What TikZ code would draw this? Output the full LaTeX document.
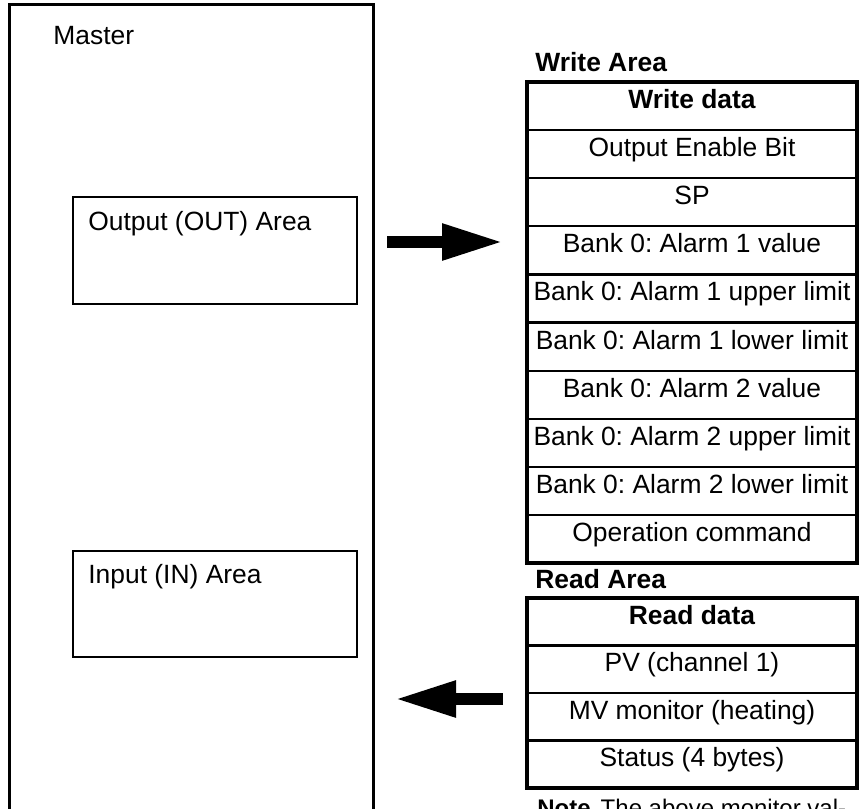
\documentclass[tikz,border=0pt]{standalone}
\usepackage{fontspec}
\setmainfont{Liberation Sans}
\usepackage{tikz}
\usetikzlibrary{positioning}
\usetikzlibrary{arrows.meta}
\frenchspacing
\newcommand{\labelsize}{\fontsize{13.2pt}{16pt}\selectfont}
\newcommand{\notesize}{\fontsize{12pt}{14.5pt}\selectfont}
\tikzset{
    areabox/.style={draw=black, line width=1.3pt, inner sep=0pt, outer sep=0pt},
    plaintext/.style={anchor=base west, inner sep=0pt},
    datarow/.style={draw=black, line width=1.1pt, minimum width=165pt, minimum height=24.05pt,
        inner sep=0pt, outer sep=0pt, text height=9.5pt, text depth=7pt},
    readrow/.style={datarow, minimum height=23.75pt},
    headrow/.style={datarow, font=\labelsize\bfseries},
    readhead/.style={readrow, font=\labelsize\bfseries},
    tableframe/.style={draw=black, line width=1.6pt},
    bigarrow/.style={draw=black, line width=5.75pt, -{Triangle[length=30.5pt,width=17pt]}},
}
\begin{document}
\begin{tikzpicture}[x=0.5pt, y=-0.5pt, font=\labelsize]
	\useasboundingbox (0,0) rectangle (860,808);
	\node[areabox, line width=1.5pt, anchor=north west, minimum width=182pt, minimum height=415pt] (master) at (9,5) {};
	\node[plaintext] (mastertxt) at (53,45) {Master};
	\node[areabox, anchor=north west, minimum width=142pt, minimum height=53.5pt] (outbox) at (73,197) {};
	\node[plaintext] (outtxt) at ([xshift=7.5pt,yshift=-16.5pt]outbox.north west) {Output (OUT) Area};
	\node[areabox, anchor=north west, minimum width=142pt, minimum height=53pt] (inbox) at (73,551) {};
	\node[plaintext] (intxt) at ([xshift=7.5pt,yshift=-16pt]inbox.north west) {Input (IN) Area};

	\node[headrow, anchor=north] (wh) at (692,82) {Write data};
	\node[datarow, below=0pt of wh] (w1) {Output Enable Bit};
	\node[datarow, below=0pt of w1] (w2) {SP};
	\node[datarow, below=0pt of w2] (w3) {Bank 0: Alarm 1 value};
	\node[datarow, below=0pt of w3] (w4) {Bank 0: Alarm 1 upper limit};
	\node[datarow, below=0pt of w4] (w5) {Bank 0: Alarm 1 lower limit};
	\node[datarow, below=0pt of w5] (w6) {Bank 0: Alarm 2 value};
	\node[datarow, below=0pt of w6] (w7) {Bank 0: Alarm 2 upper limit};
	\node[datarow, below=0pt of w7] (w8) {Bank 0: Alarm 2 lower limit};
	\node[datarow, below=0pt of w8] (w9) {Operation command};
	\draw[tableframe] (wh.north west) rectangle (w9.south east);
	\node[plaintext, font=\labelsize\bfseries] (wlabel) at ([xshift=4pt,yshift=5pt]wh.north west) {Write Area};

	\node[readhead, anchor=north] (rh) at (692,598) {Read data};
	\node[readrow, below=0pt of rh] (r1) {PV (channel 1)};
	\node[readrow, below=0pt of r1] (r2) {MV monitor (heating)};
	\node[readrow, below=0pt of r2] (r3) {Status (4 bytes)};
	\draw[tableframe] (rh.north west) rectangle (r3.south east);
	\node[plaintext, font=\labelsize\bfseries] (rlabel) at ([xshift=4pt,yshift=5pt]rh.north west) {Read Area};
	\node[plaintext, font=\notesize] (note) at ([xshift=5pt,yshift=-14pt]r3.south west) {\textbf{Note}\hspace{5pt}The above monitor val-};

	\coordinate (outtail) at (387,242);
	\coordinate (outtip) at (503,242);
	\draw[bigarrow] (outtail) -- (outtip);
	\coordinate (intail) at (503,699);
	\coordinate (intip) at (395,699);
	\draw[bigarrow] (intail) -- (intip);
\end{tikzpicture}
\end{document}
